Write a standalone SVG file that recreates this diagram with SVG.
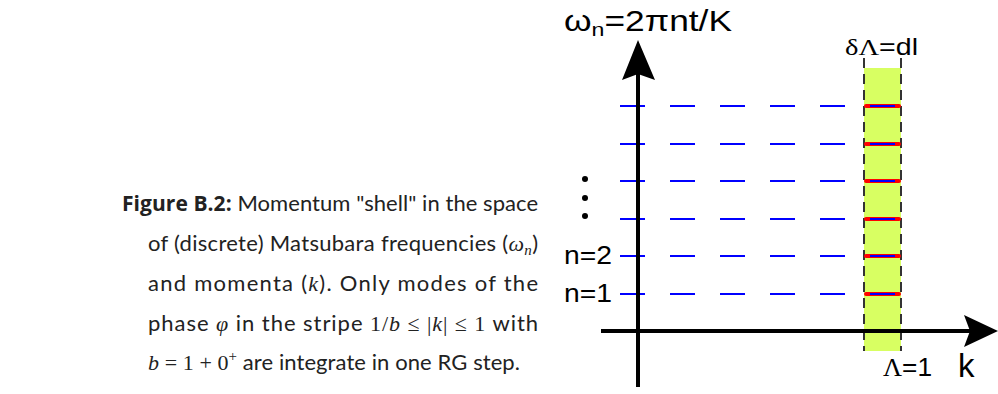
<svg xmlns="http://www.w3.org/2000/svg" width="998" height="394" viewBox="0 0 998 394">
<style>
.cap{font-family:"Lato","Open Sans","Liberation Sans",sans-serif;font-size:22px;fill:#222}
.hd{font-family:"Open Sans","Lato",sans-serif;font-weight:bold;font-size:21px}
.m{font-family:"Liberation Serif","DejaVu Serif",serif;font-style:italic}
.r{font-family:"Liberation Serif","DejaVu Serif",serif;font-style:normal}
.lab{font-family:"Liberation Sans",Arial,sans-serif;fill:#000}
.g{font-family:"Liberation Serif","DejaVu Serif",serif}
.mode{stroke:#0000ff;stroke-width:2;stroke-dasharray:25 25}
.edge{stroke:#333;stroke-width:2;stroke-dasharray:10 6}
.ax{stroke:#000;stroke-width:4}
</style>
<rect width="998" height="394" fill="#fff"/>
<g id="caption">
<text class="cap" x="122" y="211" textLength="416" lengthAdjust="spacing"><tspan class="hd">Figure B.2:</tspan> Momentum "shell" in the space</text>
<text class="cap" x="148" y="251" textLength="390" lengthAdjust="spacing">of (discrete) Matsubara frequencies (<tspan class="m">ω<tspan font-size="15" dy="4">n</tspan></tspan><tspan dy="-4">)</tspan></text>
<text class="cap" x="148" y="291" textLength="390" lengthAdjust="spacing">and momenta (<tspan class="m">k</tspan>).  Only modes of the</text>
<text class="cap" x="148" y="331" textLength="390" lengthAdjust="spacing">phase <tspan class="m">φ</tspan> in the stripe <tspan class="r">1/</tspan><tspan class="m">b</tspan><tspan class="r"> ≤ |</tspan><tspan class="m">k</tspan><tspan class="r">| ≤ 1</tspan> with</text>
<text class="cap" x="148" y="370" textLength="372" lengthAdjust="spacing"><tspan class="m">b</tspan><tspan class="r"> = 1 + 0</tspan><tspan class="r" font-size="15" dy="-9">+</tspan><tspan dy="9"> are integrate in one RG step.</tspan></text>
</g>
<g id="stripe">
<rect x="864" y="68" width="37" height="283" fill="#d8ff62"/>
</g>
<g id="connectors">
<line class="edge" x1="864" y1="58" x2="864" y2="351"/>
<line class="edge" x1="901" y1="58" x2="901" y2="351"/>
<g id="modes">
<line class="mode" x1="620" y1="106" x2="850" y2="106"/>
<line class="mode" x1="620" y1="144" x2="850" y2="144"/>
<line class="mode" x1="620" y1="181" x2="850" y2="181"/>
<line class="mode" x1="620" y1="219" x2="850" y2="219"/>
<line class="mode" x1="620" y1="256" x2="850" y2="256"/>
<line class="mode" x1="620" y1="294" x2="850" y2="294"/>
</g>
<g id="shell-modes" stroke-linecap="round">
<g stroke="#ff0000" stroke-width="4">
<line x1="866" y1="106" x2="899" y2="106"/>
<line x1="866" y1="144" x2="899" y2="144"/>
<line x1="866" y1="181" x2="899" y2="181"/>
<line x1="866" y1="219" x2="899" y2="219"/>
<line x1="866" y1="256" x2="899" y2="256"/>
<line x1="866" y1="294" x2="899" y2="294"/>
</g>
<g stroke="#0000ff" stroke-width="2" stroke-linecap="butt">
<line x1="870" y1="106" x2="895" y2="106"/>
<line x1="870" y1="144" x2="895" y2="144"/>
<line x1="870" y1="181" x2="895" y2="181"/>
<line x1="870" y1="219" x2="895" y2="219"/>
<line x1="870" y1="256" x2="895" y2="256"/>
<line x1="870" y1="294" x2="895" y2="294"/>
</g>
</g>
<g id="axes">
<line class="ax" x1="638" y1="387" x2="638" y2="70"/>
<polygon points="638,40 655,80 638,74 622,80" fill="#000"/>
<line class="ax" x1="601" y1="331" x2="970" y2="331"/>
<polygon points="998,331 964,315 970,331 964,347" fill="#000"/>
</g>
</g>
<g id="labels">
<text class="lab" x="564" y="31" font-size="29" textLength="168" lengthAdjust="spacingAndGlyphs">ω<tspan font-size="19" dy="5">n</tspan><tspan dy="-5">=2πnt/K</tspan></text>
<text class="lab" x="845" y="55" font-size="24" textLength="73" lengthAdjust="spacingAndGlyphs"><tspan class="g">δΛ</tspan>=dl</text>
<text class="lab" x="564" y="264" font-size="25" textLength="48" lengthAdjust="spacingAndGlyphs">n=2</text>
<text class="lab" x="564" y="302" font-size="25" textLength="48" lengthAdjust="spacingAndGlyphs">n=1</text>
<text class="lab" x="883" y="376" font-size="25" textLength="49" lengthAdjust="spacingAndGlyphs"><tspan class="g">Λ</tspan>=1</text>
<text class="lab" x="958" y="377" font-size="33">k</text>
<circle cx="585" cy="179" r="3"/>
<circle cx="585" cy="198" r="3"/>
<circle cx="585" cy="216" r="3"/>
</g>
</svg>
